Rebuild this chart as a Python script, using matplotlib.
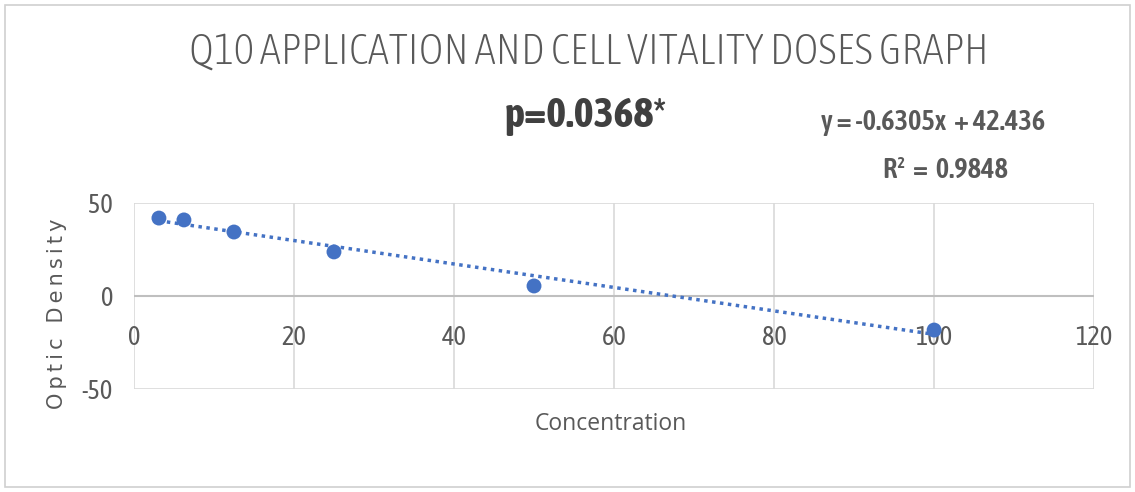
import matplotlib
matplotlib.use("Agg")
import matplotlib.pyplot as plt
import numpy as np
from matplotlib.patches import Rectangle

concentration = [3.125, 6.25, 12.5, 25, 50, 100]
optic_density = [41.9, 40.9, 34.4, 23.7, 5.4, -18.3]
trend_slope = -0.6305
trend_intercept = 42.436
x_ticks = [0, 20, 40, 60, 80, 100, 120]
y_ticks = [-50, 0, 50]

plt.rcParams["axes.unicode_minus"] = False
grey = "#595959"
blue = "#4472C4"
narrow = ["Asap Condensed", "Barlow Condensed", "DejaVu Sans"]

fig = plt.figure(figsize=(11.35, 4.92), dpi=100)
fig.patches.append(Rectangle((0.004, 0.01), 0.992, 0.98, transform=fig.transFigure,
                             fill=False, edgecolor="#d0d0d0", linewidth=1.2))
ax = fig.add_axes([0.118, 0.2093, 0.846, 0.3781])

xt = np.array([min(concentration), max(concentration)])
ax.plot(xt, trend_slope * xt + trend_intercept, linestyle=(0, (1, 1.3)), color=blue,
        linewidth=2.5, zorder=3)
ax.scatter(concentration, optic_density, s=115, color=blue, zorder=4, edgecolors="none")

ax.set_xlim(0, 120)
ax.set_ylim(-50, 50)
ax.set_xticks(x_ticks)
ax.set_yticks(y_ticks)
ax.grid(True, color="#d9d9d9", linewidth=1.2)
ax.set_axisbelow(True)
for name, s in ax.spines.items():
    s.set_visible(False)
ax.spines["bottom"].set_position(("data", 0))
ax.axhline(0, color="#bfbfbf", linewidth=1.5, zorder=2)
ax.tick_params(length=0)
ax.xaxis.set_tick_params(pad=21)
ax.yaxis.set_tick_params(pad=15)
ax.set_xticklabels([str(t) for t in x_ticks], family=narrow, fontsize=19, color=grey)
ax.set_yticklabels([str(t) for t in y_ticks], family=narrow, fontsize=19, color=grey)

fig.text(0.538, 0.139, "Concentration", ha="center", va="center", fontsize=16.5, color=grey,
         family=["Open Sans", "DejaVu Sans"])
fig.text(0.05, 0.362, "\u2009".join("Optic Density"), ha="center", va="center", rotation=90,
         fontsize=15, color=grey, family=["DejaVu Sans"])

fig.text(0.519, 0.895, "Q10 APPLICATION AND CELL VITALITY DOSES GRAPH", ha="center",
         va="center", fontsize=30.8, color=grey, family=narrow, fontweight="light")
fig.text(0.445, 0.765, "p=0.0368*", ha="left", va="center", fontsize=30.5, fontweight="bold",
         color="#404040", family=narrow)
fig.text(0.921, 0.752, "y = -0.6305x  + 42.436", ha="right", va="center", fontsize=20.5,
         fontweight="semibold", color=grey, family=narrow)
fig.text(0.888, 0.654, "R²  =  0.9848", ha="right", va="center", fontsize=20.5,
         fontweight="semibold", color=grey, family=narrow)

fig.savefig("out.png", dpi=100)
